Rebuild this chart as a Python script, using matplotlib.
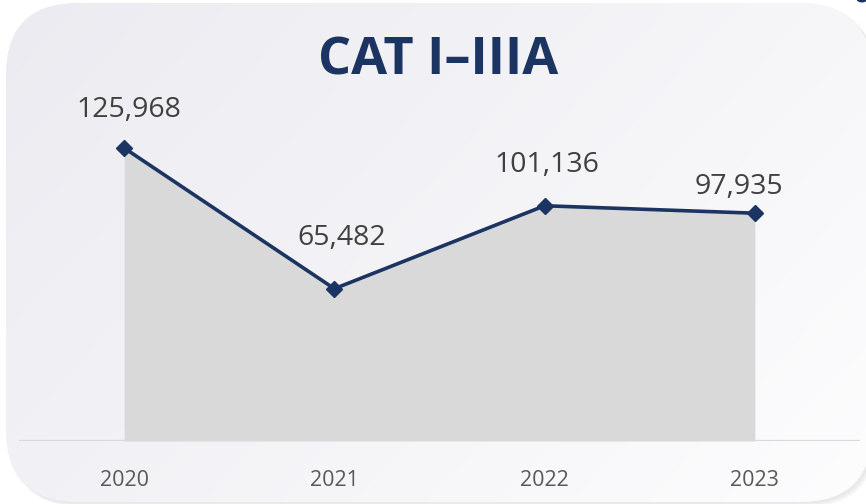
import numpy as np
import matplotlib.pyplot as plt
from matplotlib.patches import FancyBboxPatch, Ellipse

plt.rcParams['font.family'] = ['Open Sans', 'DejaVu Sans']

years = ["2020", "2021", "2022", "2023"]
values = [125968, 65482, 101136, 97935]
# label offsets (px) relative to each point
label_dx = [5, 7, 2, -16]
label_dy = [38, 51, 41, 26]

NAVY = "#1B3461"
W, H = 866, 504

fig = plt.figure(figsize=(W / 100, H / 100), dpi=100)
fig.patch.set_facecolor("white")

# ---- card background ----
bg = fig.add_axes([0, 0, 1, 1])
bg.set_xlim(0, W)
bg.set_ylim(H, 0)
bg.axis("off")

card_x0, card_y0, card_x1, card_y1 = 6, 3, 872, 502
rad = 72
# soft shadow
for i, a in enumerate([0.02, 0.02, 0.025, 0.025]):
    s = FancyBboxPatch((card_x0 + 2 + i, card_y0 + 2 + i),
                       card_x1 - card_x0, card_y1 - card_y0,
                       boxstyle=f"round,pad=0,rounding_size={rad}",
                       fc="black", ec="none", alpha=a, zorder=0)
    bg.add_patch(s)

card = FancyBboxPatch((card_x0, card_y0), card_x1 - card_x0, card_y1 - card_y0,
                      boxstyle=f"round,pad=0,rounding_size={rad}",
                      fc="none", ec="none", zorder=1)
bg.add_patch(card)
gx, gy = np.meshgrid(np.linspace(0, 1, 200), np.linspace(0, 1, 120))
t = np.clip(0.65 * gx + 0.35 * gy, 0, 1)
c0 = np.array([0xEB, 0xEB, 0xF1]) / 255
c1 = np.array([0xFD, 0xFD, 0xFE]) / 255
img = c0[None, None, :] * (1 - t[..., None]) + c1[None, None, :] * t[..., None]
im = bg.imshow(img, extent=[card_x0, card_x1, card_y1, card_y0],
               aspect="auto", zorder=1, interpolation="bilinear")
im.set_clip_path(card)
bg.add_patch(Ellipse((862, -2), 12, 9, fc=NAVY, ec="none", zorder=2))

bg.text(438, 61, "CAT I\u2013IIIA", ha="center", va="center",
        fontsize=37.5, fontweight="bold", color=NAVY, zorder=3)

# ---- chart ----
ax = fig.add_axes([19 / W, 1 - 441 / H, (860 - 19) / W, (441 - 100) / H])
ax.patch.set_alpha(0)
x = np.arange(len(values))
ax.set_xlim(-0.5, len(values) - 0.5)
ax.set_ylim(0, 146600)
ax.fill_between(x, values, 0, color="#D9D9D9", lw=0, zorder=1)
ax.plot(x, values, color=NAVY, lw=2.6, marker="D", ms=8.5,
        mfc=NAVY, mec=NAVY, zorder=3)
ax.axhline(0, color="#D9D9D9", lw=1.6, zorder=2)

for xi, v, dx, dy in zip(x, values, label_dx, label_dy):
    ax.annotate(f"{v:,}", (xi, v), xytext=(dx * 0.72, dy * 0.72),
                textcoords="offset points", ha="center", va="center",
                fontsize=20.5, color="#404040")

ax.set_xticks(x)
ax.set_xticklabels(years, fontsize=15.5, color="#595959")
ax.tick_params(axis="x", length=0, pad=21)
ax.set_yticks([])
for sp in ax.spines.values():
    sp.set_visible(False)

fig.savefig("out.png", dpi=100)
